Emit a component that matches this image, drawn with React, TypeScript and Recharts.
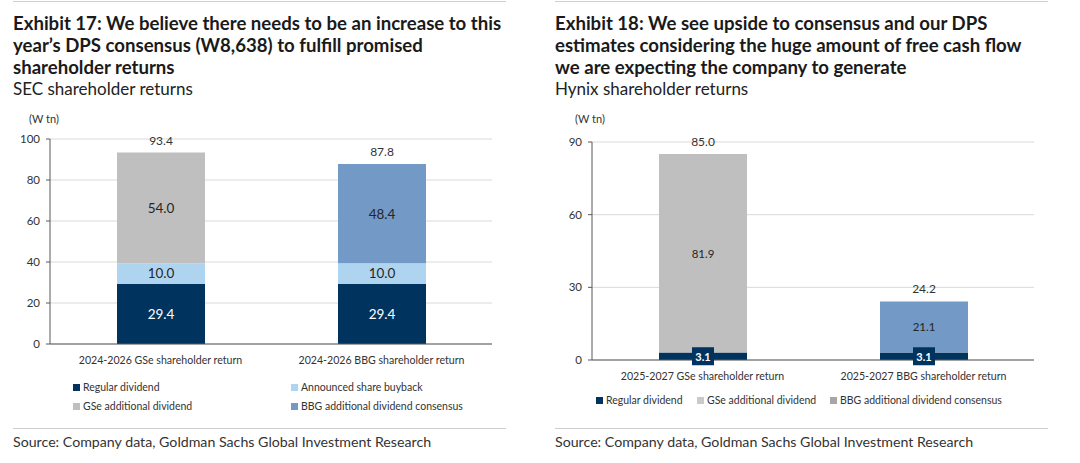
import React from 'react';
import { BarChart, Bar, XAxis, YAxis, CartesianGrid, LabelList } from 'recharts';

// ---------- Data ----------
const secCategories = ['2024-2026 GSe shareholder return', '2024-2026 BBG shareholder return'];
const secRegular = [29.4, 29.4];
const secBuyback = [10.0, 10.0];
const secGseAdditional = [54.0, 0];
const secBbgAdditional = [0, 48.4];
const secTotals = [93.4, 87.8];
const secTicks = [0, 20, 40, 60, 80, 100];

const hynixCategories = ['2025-2027 GSe shareholder return', '2025-2027 BBG shareholder return'];
const hynixRegular = [3.1, 3.1];
const hynixGseAdditional = [81.9, 0];
const hynixBbgAdditional = [0, 21.1];
const hynixTotals = [85.0, 24.2];
const hynixTicks = [0, 30, 60, 90];

const secLegend = ['Regular dividend', 'Announced share buyback', 'GSe additional dividend', 'BBG additional dividend consensus'];
const hynixLegend = ['Regular dividend', 'GSe additional dividend', 'BBG additional dividend consensus'];

// ---------- Styles ----------
const NAVY = '#00345F';
const LIGHT_BLUE = '#AFD4F0';
const GRAY = '#BFBFBF';
const BLUE = '#7399C6';
const FONT = 'Lato, "Noto Sans", sans-serif';

const secRows = secCategories.map((c, i) => ({
  name: c,
  regular: secRegular[i],
  buyback: secBuyback[i],
  gse: secGseAdditional[i],
  bbg: secBbgAdditional[i],
  total: secTotals[i],
}));

const hynixRows = hynixCategories.map((c, i) => ({
  name: c,
  regular: hynixRegular[i],
  gse: hynixGseAdditional[i],
  bbg: hynixBbgAdditional[i],
  total: hynixTotals[i],
}));

function box(props: any) {
  const vb = props.viewBox && props.viewBox.width !== undefined ? props.viewBox : props;
  return { x: Number(vb.x), y: Number(vb.y), w: Number(vb.width), h: Number(vb.height) };
}

const centerLabel = (color: string, size: number) => (props: any) => {
  const v = Number(props.value);
  const { x, y, w, h } = box(props);
  if (!v || !(Math.abs(h) > 0)) return null;
  return (
    <text x={x + w / 2} y={y + h / 2} textAnchor="middle" dominantBaseline="central" fill={color} fontSize={size} fontFamily={FONT}>
      {v.toFixed(1)}
    </text>
  );
};

const boxedLabel = (props: any) => {
  const v = Number(props.value);
  const { x, y, w, h } = box(props);
  if (!v || !(Math.abs(h) > 0)) return null;
  const cx = x + w / 2;
  const cy = y + h / 2;
  return (
    <g>
      <rect x={cx - 11} y={cy - 9} width={22} height={18} fill={NAVY} />
      <text x={cx} y={cy} textAnchor="middle" dominantBaseline="central" fill="#fff" fontSize={11} fontWeight={700} fontFamily={FONT}>
        {v.toFixed(1)}
      </text>
    </g>
  );
};

const totalLabel = (props: any) => {
  const v = Number(props.value);
  const { x, y, w, h } = box(props);
  if (!v || !(Math.abs(h) > 0)) return null;
  return (
    <text x={x + w / 2} y={y - 8} textAnchor="middle" fill="#333" fontSize={12} fontFamily={FONT}>
      {v.toFixed(1)}
    </text>
  );
};

const tickStyle = { fontSize: 10.6, fill: '#333', fontFamily: FONT };
const yTickStyle = { fontSize: 11.5, fill: '#333', fontFamily: FONT };

function Swatch({ color }: { color: string }) {
  return <span style={{ display: 'inline-block', width: 7, height: 7, background: color, marginRight: 3 }} />;
}

function LegendItem({ left, top, color, label }: { left: number; top: number; color: string; label: string }) {
  return (
    <div style={{ position: 'absolute', left, top: top - 8, height: 16, display: 'flex', alignItems: 'center', fontSize: 10.5, color: '#333', whiteSpace: 'nowrap', fontFamily: FONT }}>
      <Swatch color={color} />
      {label}
    </div>
  );
}

function Header({ left, lines, sub }: { left: number; lines: string[]; sub: string }) {
  return (
    <div style={{ position: 'absolute', left, top: 12, whiteSpace: 'nowrap', fontFamily: FONT }}>
      {lines.map((l, i) => (
        <div key={i} style={{ fontSize: 18.6, fontWeight: 700, lineHeight: '22px', color: '#1a1a1a' }}>{l}</div>
      ))}
      <div style={{ fontSize: 17, lineHeight: '22px', color: '#222' }}>{sub}</div>
    </div>
  );
}

function Rule({ left, top, width }: { left: number; top: number; width: number }) {
  return <div style={{ position: 'absolute', left, top, width, height: 1, background: '#CFCFCF' }} />;
}

function Source({ left }: { left: number }) {
  return (
    <div style={{ position: 'absolute', left, top: 433, fontSize: 14.2, lineHeight: '18px', color: '#333', whiteSpace: 'nowrap', fontFamily: FONT }}>
      Source: Company data, Goldman Sachs Global Investment Research
    </div>
  );
}

export default function App() {
  return (
    <div style={{ position: 'absolute', left: 0, top: 0, width: 1080, height: 463, background: '#fff', overflow: 'hidden', fontFamily: FONT }}>
      {/* Left panel */}
      <Rule left={13} top={1} width={493} />
      <Header
        left={13}
        lines={['Exhibit 17: We believe there needs to be an increase to this', 'year\u2019s DPS consensus (W8,638) to fulfill promised', 'shareholder returns']}
        sub="SEC shareholder returns"
      />
      <div style={{ position: 'absolute', left: 29, top: 112, fontSize: 11, color: '#333' }}>(W tn)</div>
      <div style={{ position: 'absolute', left: 0, top: 110 }}>
        <BarChart width={525} height={270} data={secRows} margin={{ top: 29, right: 33, bottom: 6, left: 10 }}>
          <CartesianGrid vertical={false} stroke="#D9D9D9" />
          <XAxis dataKey="name" tickLine={false} tickMargin={6} axisLine={{ stroke: '#595959' }} tick={tickStyle} height={30} interval={0} />
          <YAxis domain={[0, 100]} ticks={secTicks} width={40} tickSize={4} tickMargin={6} axisLine={{ stroke: '#595959' }} tickLine={{ stroke: '#595959' }} tick={yTickStyle} />
          <Bar dataKey="regular" stackId="s" fill={NAVY} barSize={88} isAnimationActive={false}>
            <LabelList dataKey="regular" content={centerLabel('#fff', 13.5)} />
          </Bar>
          <Bar dataKey="buyback" stackId="s" fill={LIGHT_BLUE} barSize={88} isAnimationActive={false}>
            <LabelList dataKey="buyback" content={centerLabel('#262626', 13.5)} />
          </Bar>
          <Bar dataKey="gse" stackId="s" fill={GRAY} barSize={88} isAnimationActive={false}>
            <LabelList dataKey="gse" content={centerLabel('#262626', 13.5)} />
            <LabelList dataKey="total" content={totalLabel} />
          </Bar>
          <Bar dataKey="bbg" stackId="s" fill={BLUE} barSize={88} isAnimationActive={false}>
            <LabelList dataKey="bbg" content={centerLabel('#262626', 13.5)} />
            <LabelList dataKey="total" content={totalLabel} />
          </Bar>
        </BarChart>
      </div>
      <LegendItem left={73} top={387} color={NAVY} label={secLegend[0]} />
      <LegendItem left={291} top={387} color={LIGHT_BLUE} label={secLegend[1]} />
      <LegendItem left={73} top={406} color={GRAY} label={secLegend[2]} />
      <LegendItem left={291} top={406} color={BLUE} label={secLegend[3]} />
      <Rule left={13} top={428} width={493} />
      <Source left={13} />

      {/* Right panel */}
      <Rule left={555} top={1} width={493} />
      <Header
        left={555}
        lines={['Exhibit 18: We see upside to consensus and our DPS', 'estimates considering the huge amount of free cash flow', 'we are expecting the company to generate']}
        sub="Hynix shareholder returns"
      />
      <div style={{ position: 'absolute', left: 575, top: 112, fontSize: 11, color: '#333' }}>(W tn)</div>
      <div style={{ position: 'absolute', left: 540, top: 110 }}>
        <BarChart width={540} height={290} data={hynixRows} margin={{ top: 32, right: 46, bottom: 10, left: 12 }}>
          <CartesianGrid vertical={false} stroke="#D9D9D9" />
          <XAxis dataKey="name" tickLine={false} tickMargin={6} axisLine={{ stroke: '#595959' }} tick={tickStyle} height={30} interval={0} />
          <YAxis domain={[0, 90]} ticks={hynixTicks} width={40} tickSize={4} tickMargin={6} axisLine={{ stroke: '#595959' }} tickLine={{ stroke: '#595959' }} tick={yTickStyle} />
          <Bar dataKey="regular" stackId="h" fill={NAVY} barSize={88} isAnimationActive={false}>
            <LabelList dataKey="regular" content={boxedLabel} />
          </Bar>
          <Bar dataKey="gse" stackId="h" fill={GRAY} barSize={88} isAnimationActive={false}>
            <LabelList dataKey="gse" content={centerLabel('#262626', 11.5)} />
            <LabelList dataKey="total" content={totalLabel} />
          </Bar>
          <Bar dataKey="bbg" stackId="h" fill={BLUE} barSize={88} isAnimationActive={false}>
            <LabelList dataKey="bbg" content={centerLabel('#262626', 11.5)} />
            <LabelList dataKey="total" content={totalLabel} />
          </Bar>
        </BarChart>
      </div>
      <LegendItem left={596} top={400} color={NAVY} label={hynixLegend[0]} />
      <LegendItem left={697} top={400} color="#CACACA" label={hynixLegend[1]} />
      <LegendItem left={830} top={400} color="#A6A6A6" label={hynixLegend[2]} />
      <Rule left={555} top={428} width={493} />
      <Source left={555} />
    </div>
  );
}
